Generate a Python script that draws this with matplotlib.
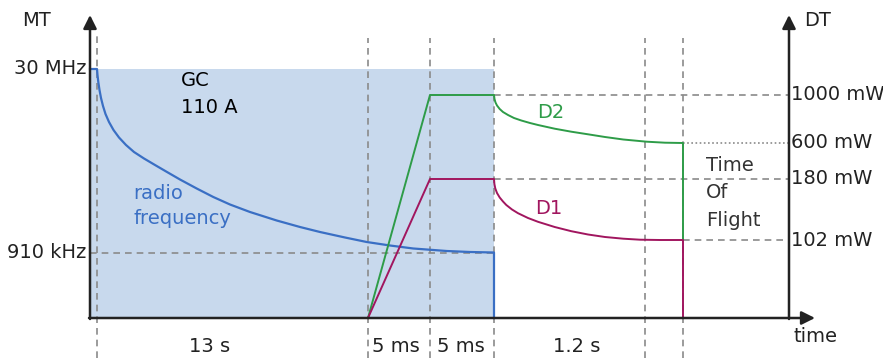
import matplotlib
matplotlib.use("Agg")
import matplotlib.pyplot as plt

# schematic units: x = position along time axis, y = height above baseline
x0, x_end, x_right = 90, 815, 789
y_top = 303

marks = [97, 368, 430, 494, 645, 683]
span_labels = ["13 s", "5 ms", "5 ms", "1.2 s"]
span_centers = [210, 396, 461, 577]

mt_labels = ["30 MHz", "910 kHz"]
mt_levels = [249, 65]
dt_labels = ["1000 mW", "600 mW", "180 mW", "102 mW"]
dt_levels = [223, 175, 139, 78]

# radio frequency curve
rf_x = [90, 97, 97.5, 98.3, 99.5, 101, 103, 105.5, 109, 113.5, 119, 126, 134, 144,
        155, 167, 180, 196.7, 213.3, 230, 250, 276.7, 300, 320, 345, 366.7, 390,
        413.3, 446.7, 470, 494, 494]
rf_y = [249, 249, 243, 236, 228, 220, 212, 204, 196, 188, 180.5, 173, 166, 159.5,
        153, 146, 138.5, 129.5, 121, 113.5, 106, 97.5, 91, 86, 80.5, 76, 72.5,
        69.5, 67, 66, 65.5, 0]

# D2 power
d2_x = [368, 430, 494, 494.5, 495.5, 497, 499.7, 503, 508, 514, 521.3, 530, 538,
        554.7, 571.3, 588, 605, 623.3, 646.7, 665, 683, 683]
d2_y = [0, 223, 223, 219, 215.5, 212.5, 209, 206, 203, 200, 197.5, 195, 193,
        189.3, 186.3, 183.7, 181, 178.5, 176.3, 175.3, 175, 78]

# D1 power
d1_x = [368, 430, 494, 494.4, 495.3, 497, 499.7, 503, 506.3, 512, 518, 528, 538,
        554.7, 571.3, 588, 605, 623.3, 640, 660, 683, 683]
d1_y = [0, 139, 139, 134, 129.5, 125, 120.5, 116.5, 113, 108.5, 104.8, 100, 96.2,
        91, 86.8, 83.5, 81, 79.3, 78.3, 78, 78, 0]

blue = "#3a6fc4"
green = "#2e9c48"
magenta = "#a1165f"
grey = "#8a8a8a"
black = "#222222"

fig = plt.figure(figsize=(8.83, 3.58), dpi=100)
ax = fig.add_axes([0, 0, 1, 1])
ax.set_xlim(0, 883)
ax.set_ylim(-40, 318)
ax.axis("off")

# GC shaded block
ax.fill_between([x0, marks[3]], 0, mt_levels[0], color="#c8d9ed", lw=0, zorder=0)

# dashed guides
dash = (0, (4, 3))
tops = [285, 280, 280, 280, 280, 280]
for m, t in zip(marks, tops):
    ax.plot([m, m], [-40, t], ls=dash, color=grey, lw=1.2, zorder=1)
ax.plot([x0, marks[3]], [mt_levels[1]] * 2, ls=dash, color=grey, lw=1.2, zorder=1)
ax.plot([marks[3], x_right], [dt_levels[0]] * 2, ls=dash, color=grey, lw=1.2, zorder=1)
ax.plot([marks[5], x_right], [dt_levels[1]] * 2, ls=(0, (1, 1.5)), color=grey, lw=1.2, zorder=1)
ax.plot([marks[3], x_right], [dt_levels[2]] * 2, ls=dash, color=grey, lw=1.2, zorder=1)
ax.plot([marks[5], x_right], [dt_levels[3]] * 2, ls=dash, color=grey, lw=1.2, zorder=1)

# curves
ax.plot(rf_x, rf_y, color=blue, lw=1.6, zorder=3, solid_joinstyle="round")
ax.plot(d2_x, d2_y, color=green, lw=1.4, zorder=3, solid_joinstyle="round")
ax.plot(d1_x, d1_y, color=magenta, lw=1.4, zorder=3, solid_joinstyle="round")

# axes with arrows
arr = dict(arrowstyle="-|>", mutation_scale=20, lw=1.8, color=black,
           shrinkA=0, shrinkB=0)
ax.annotate("", xy=(x0, y_top), xytext=(x0, -1), arrowprops=arr, zorder=4)
ax.annotate("", xy=(x_right, y_top), xytext=(x_right, -1), arrowprops=arr, zorder=4)
ax.annotate("", xy=(x_end, 0), xytext=(x0 - 1, 0), arrowprops=arr, zorder=4)

fs = 14
ax.text(36, 298, "MT", fontsize=fs, ha="center", va="center", color=black)
ax.text(818, 298, "DT", fontsize=fs, ha="center", va="center", color=black)
ax.text(815, -18, "time", fontsize=fs, ha="center", va="center", color=black)

for lab, lv in zip(mt_labels, mt_levels):
    ax.text(86, lv, lab, fontsize=fs, ha="right", va="center", color=black)
for lab, lv in zip(dt_labels, dt_levels):
    ax.text(791, lv, lab, fontsize=fs, ha="left", va="center", color=black)

for lab, c in zip(span_labels, span_centers):
    ax.text(c, -29, lab, fontsize=fs, ha="center", va="center", color=black)

ax.text(181, 224, "GC\n110 A", fontsize=fs, ha="left", va="center",
        color="black", linespacing=1.5)
ax.text(133, 112, "radio\nfrequency", fontsize=fs, ha="left", va="center",
        color=blue, linespacing=1.4)
ax.text(551, 206, "D2", fontsize=fs, ha="center", va="center", color=green)
ax.text(549, 109, "D1", fontsize=fs, ha="center", va="center", color=magenta)
ax.text(706, 125, "Time\nOf\nFlight", fontsize=fs, ha="left", va="center",
        color="#333333", linespacing=1.55)

fig.savefig("out.png", dpi=100)
